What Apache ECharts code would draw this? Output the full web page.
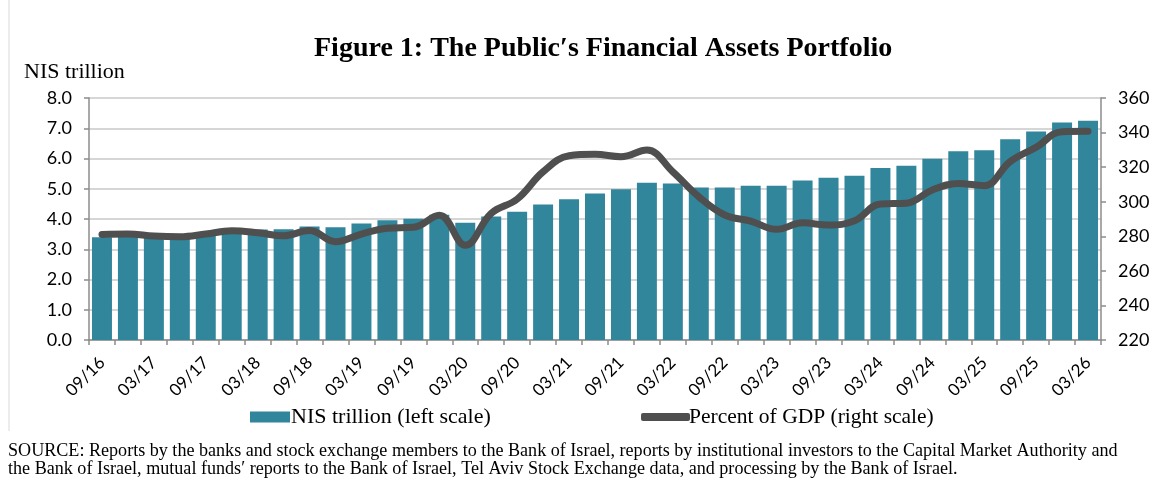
<!DOCTYPE html>
<html>
<head>
<meta charset="utf-8">
<script src="https://cdn.jsdelivr.net/npm/echarts@6/dist/echarts.min.js"></script>
<style>
html,body{margin:0;padding:0;background:#fff;}
#chart{width:1158px;height:486px;}
</style>
</head>
<body>
<div id="chart"></div>
<script>
const categories = ['09/16','12/16','03/17','06/17','09/17','12/17','03/18','06/18','09/18','12/18',
  '03/19','06/19','09/19','12/19','03/20','06/20','09/20','12/20','03/21','06/21',
  '09/21','12/21','03/22','06/22','09/22','12/22','03/23','06/23','09/23','12/23',
  '03/24','06/24','09/24','12/24','03/25','06/25','09/25','12/25','03/26'];
const nisTrillion = [3.40,3.45,3.40,3.38,3.45,3.55,3.65,3.66,3.75,3.73,
  3.85,3.96,4.01,4.14,3.88,4.08,4.24,4.48,4.65,4.84,
  4.98,5.20,5.17,5.04,5.04,5.10,5.10,5.27,5.36,5.43,
  5.69,5.76,5.99,6.24,6.27,6.64,6.89,7.19,7.25];
const percentGDP = [281.1,281.3,280.1,279.7,281.3,283.2,282.1,280.3,283.3,276.9,
  281.3,284.7,285.2,292.1,274.8,293.3,301.5,317.3,326.6,327.4,
  326.0,329.9,317.3,302.9,292.3,288.8,284.0,287.8,286.5,289.0,
  298.7,299.1,306.8,310.6,309.3,323.2,331.5,340.5,340.7];
const titleText = 'Figure 1: The Public\u2032s Financial Assets Portfolio';
const leftAxisName = 'NIS trillion';
const barName = 'NIS trillion (left scale)';
const lineName = 'Percent of GDP (right scale)';
const sourceLines = [
  'SOURCE: Reports by the banks and stock exchange members to the Bank of Israel, reports by institutional investors to the Capital Market Authority and',
  'the Bank of Israel, mutual funds\u2032 reports to the Bank of Israel, Tel Aviv Stock Exchange data, and processing by the Bank of Israel.'
];

const chart = echarts.init(document.getElementById('chart'), null, {renderer:'canvas'});
const axisGray = '#8c8c8c';
const tickFont = {fontFamily:'Lato', fontSize:18, color:'#000'};
chart.setOption({
  animation:false,
  backgroundColor:'#fff',
  title:{
    text:titleText, left:309, top:30,
    textStyle:{fontFamily:'Liberation Serif', fontWeight:'bold', fontSize:28, color:'#000'}
  },
  grid:{left:89, right:57, top:98, bottom:146, containLabel:false},
  legend:[
    {data:[{name:barName, icon:'rect'}], left:245, top:401, itemWidth:40, itemHeight:11, itemGap:0,
     textStyle:{fontFamily:'Liberation Serif', fontSize:22, color:'#000', padding:[0,0,0,-4]}},
    {data:[{name:lineName, icon:'roundRect'}], left:636, top:401, itemWidth:49, itemHeight:8, itemGap:0,
     itemStyle:{color:'#4f4f4f', borderWidth:0},
     textStyle:{fontFamily:'Liberation Serif', fontSize:21.5, color:'#000', padding:[0,0,0,-6]}}
  ],
  xAxis:{
    type:'category', data:categories,
    axisLine:{lineStyle:{color:axisGray, width:1.5}},
    axisTick:{show:true, alignWithLabel:false, interval:0, length:5, lineStyle:{color:axisGray, width:1.5}},
    axisLabel:{interval:1, rotate:45, margin:20, fontFamily:'Lato', fontSize:17, color:'#000'},
    splitLine:{show:false}
  },
  yAxis:[
    {type:'value', min:0, max:8, interval:1, position:'left',
     axisLine:{show:true, lineStyle:{color:axisGray, width:1.5}},
     axisTick:{show:true, length:5, lineStyle:{color:axisGray, width:1.5}},
     axisLabel:Object.assign({margin:17, formatter:v=>v.toFixed(1)}, tickFont),
     splitLine:{show:true, lineStyle:{color:'#c8c8c8', width:1.5}}},
    {type:'value', min:220, max:360, interval:20, position:'right',
     axisLine:{show:true, lineStyle:{color:axisGray, width:1.5}},
     axisTick:{show:true, length:5, lineStyle:{color:axisGray, width:1.5}},
     axisLabel:Object.assign({margin:17}, tickFont),
     splitLine:{show:false}}
  ],
  series:[
    {name:barName, type:'bar', data:nisTrillion, yAxisIndex:0, barCategoryGap:'23%',
     itemStyle:{color:'#31869c'}},
    {name:lineName, type:'line', data:percentGDP, yAxisIndex:1, smooth:0.4, symbol:'none',
     lineStyle:{color:'#4f4f4f', width:7, cap:'round', join:'round'},
     itemStyle:{color:'#4f4f4f'}}
  ],
  graphic:[
    {type:'text', left:24, top:61, style:{text:leftAxisName, font:'22px "Liberation Serif"', fill:'#000'}},
    {type:'line', shape:{x1:9, y1:0, x2:9, y2:431}, style:{stroke:'#d9d9d9', lineWidth:1}},
    {type:'text', left:8, top:442, style:{text:sourceLines[0], font:'18.1px "Liberation Serif"', fill:'#000'}},
    {type:'text', left:8, top:460, style:{text:sourceLines[1], font:'18.1px "Liberation Serif"', fill:'#000'}}
  ]
});
</script>
</body>
</html>
